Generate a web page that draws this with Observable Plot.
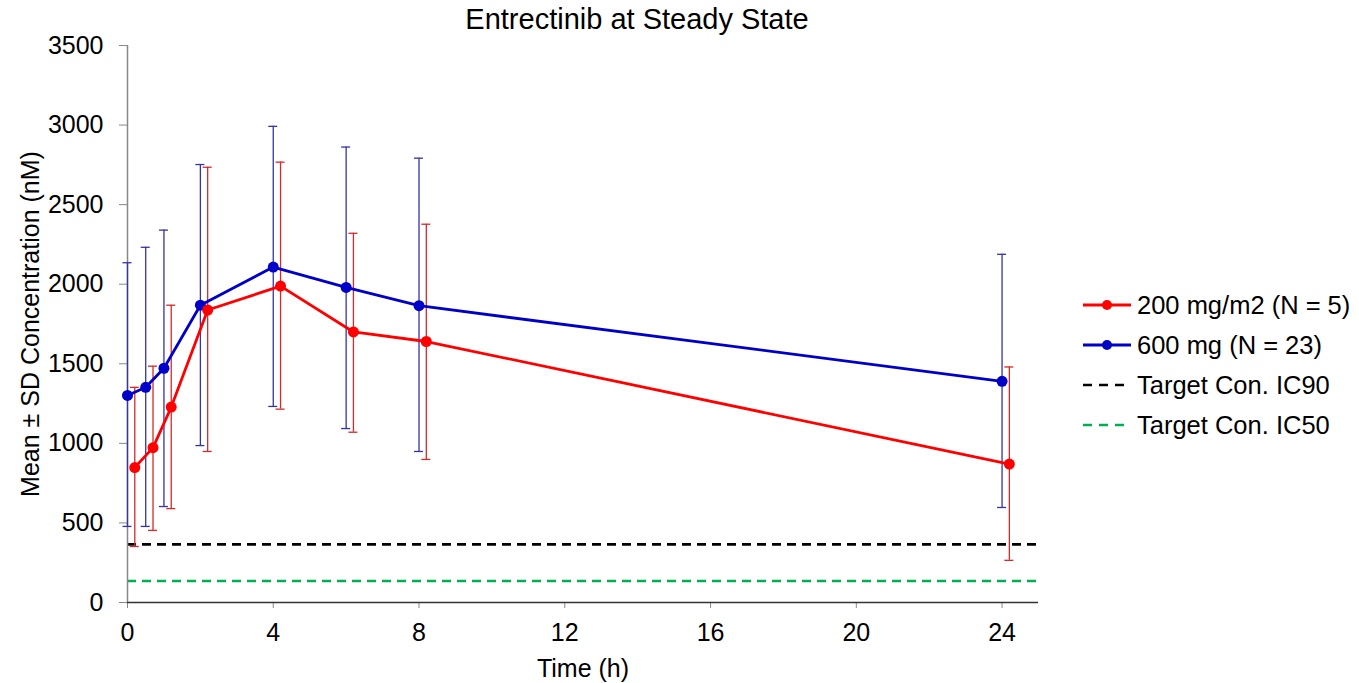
<!DOCTYPE html>
<html>
<head>
<meta charset="utf-8">
<script src="https://cdn.jsdelivr.net/npm/d3@7"></script>
<script src="https://cdn.jsdelivr.net/npm/@observablehq/plot@0.6"></script>
<style>
  html, body { margin: 0; padding: 0; background: #fff; }
  #wrap { position: relative; width: 1359px; height: 683px; overflow: hidden; font-family: "Liberation Sans", Arial, sans-serif; color: #000; }
  #chart { position: absolute; left: 0; top: 0; }
  #title { position: absolute; left: 637px; top: 5px; transform: translateX(-50%); font-size: 29px; line-height: 29px; white-space: nowrap; }
  #legend { position: absolute; left: 1083px; top: 285px; }
  .row { display: flex; align-items: center; height: 40px; font-size: 25.5px; white-space: nowrap; }
  .row svg { margin-right: 6px; }
</style>
</head>
<body>
<div id="wrap">
  <div id="chart"></div>
  <div id="title"></div>
  <div id="legend"></div>
</div>
<script>
// ---- Data ----
const chartTitle = "Entrectinib at Steady State";
const xLabel = "Time (h)";
const yLabel = "Mean ± SD Concentration (nM)";

const xTicks = [0, 4, 8, 12, 16, 20, 24];
const yTicks = [0, 500, 1000, 1500, 2000, 2500, 3000, 3500];

// 200 mg/m2 (N = 5) — plotted slightly offset in time
const times200 = [0.2, 0.7, 1.2, 2.2, 4.2, 6.2, 8.2, 24.2];
const mean200  = [848, 973, 1228, 1838, 1988, 1700, 1640, 870];
const upper200 = [1352, 1485, 1868, 2735, 2767, 2320, 2377, 1480];
const lower200 = [352, 453, 590, 949, 1215, 1070, 899, 265];

// 600 mg (N = 23)
const times600 = [0, 0.5, 1, 2, 4, 6, 8, 24];
const mean600  = [1301, 1352, 1472, 1868, 2108, 1980, 1865, 1390];
const upper600 = [2135, 2232, 2340, 2752, 2992, 2862, 2792, 2188];
const lower600 = [478, 478, 603, 986, 1232, 1093, 949, 597];

const targetIC90 = 365;
const targetIC50 = 135;

const seriesNames = ["200 mg/m2 (N = 5)", "600 mg (N = 23)"];
const refNames = ["Target Con. IC90", "Target Con. IC50"];

// ---- Styles ----
const RED = "#ff0000", RED_BAR = "#d42a2a";
const BLUE = "#0000c8", BLUE_BAR = "#3434a8";
const GREEN = "#00b050", BLACK = "#000000";

const rows200 = times200.map((t, i) => ({t, mean: mean200[i], hi: upper200[i], lo: lower200[i]}));
const rows600 = times600.map((t, i) => ({t, mean: mean600[i], hi: upper600[i], lo: lower600[i]}));

function errorMarks(rows, color) {
  return [
    Plot.ruleX(rows, {x: "t", y1: "lo", y2: "hi", stroke: color, strokeWidth: 1.3}),
    Plot.ruleY(rows, {y: "hi", x1: "t", x2: "t", insetLeft: -4.5, insetRight: -4.5, stroke: color, strokeWidth: 1.3}),
    Plot.ruleY(rows, {y: "lo", x1: "t", x2: "t", insetLeft: -4.5, insetRight: -4.5, stroke: color, strokeWidth: 1.3})
  ];
}

const chart = Plot.plot({
  width: 1359,
  height: 683,
  marginLeft: 127,
  marginRight: 321,
  marginTop: 45,
  marginBottom: 81,
  style: {fontFamily: "'Liberation Sans', Arial, sans-serif", fontSize: "25px", color: "#000", background: "transparent"},
  x: {domain: [0, 25]},
  y: {domain: [0, 3500]},
  marks: [
    Plot.ruleY([targetIC90], {stroke: BLACK, strokeWidth: 2.7, strokeDasharray: "9,6"}),
    Plot.ruleY([targetIC50], {stroke: GREEN, strokeWidth: 2.7, strokeDasharray: "9,6"}),
    Plot.axisY({ticks: yTicks, tickFormat: "d", tickSize: 8, tickPadding: 16, stroke: "#888", fill: "#000",
      label: yLabel, labelAnchor: "center", labelArrow: "none", labelOffset: 106}),
    Plot.axisX({ticks: xTicks, tickFormat: "d", tickSize: 6, tickPadding: 15, stroke: "#888", fill: "#000",
      label: xLabel, labelAnchor: "center", labelArrow: "none", labelOffset: 74}),
    Plot.ruleX([0], {stroke: "#888", strokeWidth: 1.5}),
    Plot.ruleY([0], {stroke: "#333", strokeWidth: 1.5}),
    ...errorMarks(rows600, BLUE_BAR),
    ...errorMarks(rows200, RED_BAR),
    Plot.line(rows600, {x: "t", y: "mean", stroke: BLUE, strokeWidth: 2.8}),
    Plot.line(rows200, {x: "t", y: "mean", stroke: RED, strokeWidth: 2.8}),
    Plot.dot(rows600, {x: "t", y: "mean", r: 5.5, fill: BLUE, stroke: "none"}),
    Plot.dot(rows200, {x: "t", y: "mean", r: 5.5, fill: RED, stroke: "none"})
  ]
});
document.getElementById("chart").appendChild(chart);
document.getElementById("title").textContent = chartTitle;

// ---- Legend ----
const legendItems = [
  {name: seriesNames[0], color: RED, dot: true},
  {name: seriesNames[1], color: BLUE, dot: true},
  {name: refNames[0], color: BLACK, dot: false},
  {name: refNames[1], color: GREEN, dot: false}
];
const legend = document.getElementById("legend");
for (const it of legendItems) {
  const row = document.createElement("div");
  row.className = "row";
  const sample = it.dot
    ? `<line x1="0" y1="10" x2="48" y2="10" stroke="${it.color}" stroke-width="2.8"/><circle cx="24" cy="10" r="5" fill="${it.color}"/>`
    : `<line x1="0" y1="10" x2="48" y2="10" stroke="${it.color}" stroke-width="2.7" stroke-dasharray="9,7"/>`;
  row.innerHTML = `<svg width="48" height="20">${sample}</svg><span></span>`;
  row.querySelector("span").textContent = it.name;
  legend.appendChild(row);
}
</script>
</body>
</html>
